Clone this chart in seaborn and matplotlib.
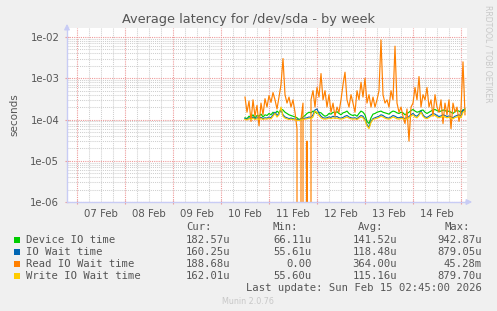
import numpy as np
import pandas as pd
import seaborn as sns
import matplotlib
matplotlib.use("Agg")
import matplotlib.pyplot as plt
import matplotlib.dates as mdates
import matplotlib.ticker as mticker
from matplotlib.patches import Rectangle

# ---- data (microseconds, hourly samples from 10 Feb 12:00) ----
start_time = "2026-02-10 12:00"
device_io = [110,105,120,115,130,110,125,120,135,115,
             130,125,140,130,150,135,160,145,180,170,
             150,140,130,125,120,115,110,100,105,115,
             125,140,150,145,160,155,140,150,145,130,
             120,125,140,135,150,145,155,140,130,145,
             150,160,140,130,125,130,120,140,160,150,
             130,90,80,110,135,140,150,155,160,150,
             145,140,135,150,160,155,145,140,150,145,
             130,140,150,165,175,160,150,155,165,170,
             150,140,150,160,170,175,165,155,160,170,
             165,155,160,150,140,155,165,160,150,170,
             180]
io_wait = [105,100,110,105,115,105,110,108,112,105,
           110,108,115,110,130,150,125,140,170,130,
           115,110,105,108,104,102,100,98,100,105,
           108,110,115,112,130,170,180,140,120,110,
           108,110,115,112,120,115,118,110,108,112,
           120,125,115,110,108,110,105,115,125,120,
           100,75,65,90,105,110,115,120,130,125,
           115,110,108,115,125,120,112,110,115,110,
           105,110,118,130,140,125,120,135,160,130,
           115,112,120,130,140,135,125,118,122,130,
           125,118,122,115,110,120,125,130,120,170,
           160]
read_wait = [350,150,280,90,300,120,220,70,250,130,
             320,200,380,260,450,300,180,350,700,3000,
             400,250,350,200,300,150,60,0,100,250,
             0,30,0,300,500,200,600,350,1300,300,
             500,200,400,150,250,120,200,150,300,700,
             1400,300,200,400,250,150,500,300,800,350,
             1000,250,400,200,350,200,300,500,8500,400,
             250,300,200,500,300,6000,250,150,200,120,
             80,180,30,200,250,600,300,1100,200,400,
             300,600,200,300,120,400,200,150,300,80,
             250,130,300,60,250,150,200,90,180,2500,
             130]
write_wait = [100,98,105,100,108,100,104,100,106,100,
              104,102,108,104,120,140,115,130,200,120,
              108,104,100,102,100,98,96,95,98,100,
              102,104,108,105,115,160,150,125,110,104,
              102,104,108,105,110,106,108,104,102,105,
              110,115,108,104,102,104,100,108,115,110,
              95,70,60,85,100,104,108,112,120,115,
              108,104,102,108,115,110,104,102,106,104,
              100,104,110,120,130,115,110,125,150,120,
              108,105,112,120,130,125,115,110,114,120,
              115,110,114,108,104,112,115,120,110,150,
              162]

series_names = ["Device IO time", "IO Wait time", "Read IO Wait time", "Write IO Wait time"]
series_colors = ["#00CC00", "#0066B3", "#FF8000", "#FFCC00"]
cur_vals = ["182.57u", "160.25u", "188.68u", "162.01u"]
min_vals = ["66.11u", "55.61u", "0.00", "55.60u"]
avg_vals = ["141.52u", "118.48u", "364.00u", "115.16u"]
max_vals = ["942.87u", "879.05u", "45.28m", "879.70u"]

times = pd.date_range(start_time, periods=len(device_io), freq="h")
frames = []
for name, vals in zip(series_names, [device_io, io_wait, read_wait, write_wait]):
    frames.append(pd.DataFrame({"time": times, "value": np.array(vals, float) * 1e-6, "series": name}))
df = pd.concat(frames, ignore_index=True)

W, H = 497, 311
fig = plt.figure(figsize=(W / 100, H / 100), dpi=100, facecolor="#F0F0F0")
ax = fig.add_axes([67 / W, 1 - 202 / H, 400 / W, 174 / H])
ax.set_facecolor("white")
ax.set_yscale("log", nonpositive="clip")

sns.lineplot(data=df, x="time", y="value", hue="series", hue_order=series_names,
             palette=series_colors, estimator=None, linewidth=0.85, ax=ax, legend=False)

x0 = pd.Timestamp("2026-02-06 19:00")
x1 = pd.Timestamp("2026-02-15 03:00")
ax.set_xlim(x0, x1)
ax.set_ylim(1e-6, 10 ** (-2 + 9 / 41.2))

# grids
ax.xaxis.set_major_locator(mdates.HourLocator(byhour=[0]))
ax.xaxis.set_minor_locator(mdates.HourLocator(byhour=[6, 12, 18]))
ax.xaxis.set_major_formatter(mticker.NullFormatter())

def minor_fmt(v, pos):
    d = mdates.num2date(v)
    if d.hour == 12:
        return d.strftime("%d %b")
    return ""
ax.xaxis.set_minor_formatter(mticker.FuncFormatter(minor_fmt))

ax.yaxis.set_major_locator(mticker.LogLocator(base=10, numticks=10))
ax.yaxis.set_minor_locator(mticker.LogLocator(base=10, subs=np.arange(2, 10), numticks=20))
ax.yaxis.set_major_formatter(mticker.FuncFormatter(lambda v, p: f"{v:.0e}"))
ax.yaxis.set_minor_formatter(mticker.NullFormatter())

ax.grid(which="minor", color="#CFCFCF", linestyle=(0, (1, 1)), linewidth=0.75)
ax.grid(which="major", color="#EE9A9A", linestyle=(0, (1, 1)), linewidth=0.8)
ax.set_axisbelow(True)

ax.tick_params(axis="x", which="major", length=3, width=0.8, color="#EE9A9A", direction="inout")
ax.tick_params(axis="x", which="minor", length=0, labelsize=7.3, labelcolor="#555555", pad=5)
ax.tick_params(axis="y", which="major", length=3, width=0.8, color="#EE9A9A", direction="inout",
               labelsize=7.3, labelcolor="#555555", pad=4)
ax.tick_params(axis="y", which="minor", length=0)
ax.set_xlabel("")
ax.set_ylabel("seconds", fontsize=7.5, color="#555555", labelpad=8)

for s in ["top", "right"]:
    ax.spines[s].set_visible(False)
for s in ["left", "bottom"]:
    ax.spines[s].set_color("#C8CCF5")
    ax.spines[s].set_linewidth(1.0)

# axis arrows
ax.annotate("", xy=(1.02, 0), xytext=(0.99, 0), xycoords="axes fraction",
            arrowprops=dict(arrowstyle="-|>", color="#C8CCF5", lw=1.0, mutation_scale=8), annotation_clip=False)
ax.annotate("", xy=(0, 1.04), xytext=(0, 0.99), xycoords="axes fraction",
            arrowprops=dict(arrowstyle="-|>", color="#C8CCF5", lw=1.0, mutation_scale=8), annotation_clip=False)

def ft(x, y, s, **kw):
    fig.text(x / W, 1 - y / H, s, **kw)

ft(248, 19, "Average latency for /dev/sda - by week", ha="center", va="center", fontsize=9.3, color="#555555")
ft(488, 5, "RRDTOOL / TOBI OETIKER", ha="center", va="top", rotation=270, fontsize=5.5, color="#C8C8C8")

mono = dict(family="DejaVu Sans Mono", fontsize=7.6, color="#555555", va="center")
ft(212, 227, "Cur:", ha="right", **mono)
ft(298, 227, "Min:", ha="right", **mono)
ft(383, 227, "Avg:", ha="right", **mono)
ft(470, 227, "Max:", ha="right", **mono)
rows_y = [240, 252, 264, 276]
for i, name in enumerate(series_names):
    y = rows_y[i]
    fig.add_artist(Rectangle((14 / W, 1 - (y + 3) / H), 6 / W, 6 / H, transform=fig.transFigure,
                             facecolor=series_colors[i], edgecolor="none"))
    ft(26, y, name, ha="left", **mono)
    ft(230, y, cur_vals[i], ha="right", **mono)
    ft(312, y, min_vals[i], ha="right", **mono)
    ft(397, y, avg_vals[i], ha="right", **mono)
    ft(482, y, max_vals[i], ha="right", **mono)
ft(482, 288, "Last update: Sun Feb 15 02:45:00 2026", ha="right", **mono)
ft(248, 301, "Munin 2.0.76", ha="center", va="center", fontsize=5.8, color="#C8C8C8")

fig.savefig("out.png", dpi=100, facecolor=fig.get_facecolor())
